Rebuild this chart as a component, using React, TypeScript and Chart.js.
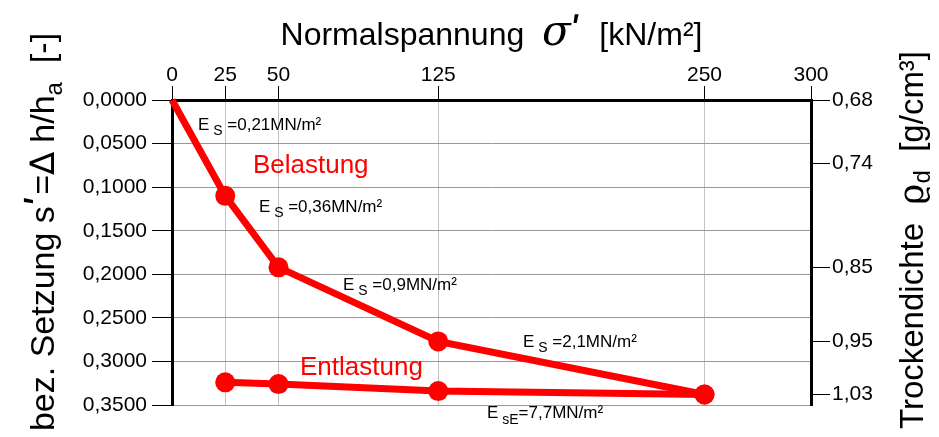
import React, { useEffect, useRef } from 'react';
import { Chart, registerables } from 'chart.js';

Chart.register(...registerables);

const FF = "Arial, 'Liberation Sans', sans-serif";

// ---- data ----
const loadsBelastung = [0, 25, 50, 125, 250];
const setzungBelastung = [0, 0.110, 0.192, 0.277, 0.338];
const loadsEntlastung = [250, 125, 50, 25];
const setzungEntlastung = [0.338, 0.334, 0.326, 0.324];

const xTickValues = [0, 25, 50, 125, 250, 300];
const yTickValues = [0, 0.05, 0.1, 0.15, 0.2, 0.25, 0.3, 0.35];
const yTickLabels = ['0,0000', '0,0500', '0,1000', '0,1500', '0,2000', '0,2500', '0,3000', '0,3500'];
const densityTickPositions = [0, 0.0726, 0.192, 0.277, 0.338];
const densityTickLabels = ['0,68', '0,74', '0,85', '0,95', '1,03'];

// annotation anchors in data units (load, settlement)
const esTexts = ['=0,21MN/m²', '=0,36MN/m²', '=0,9MN/m²', '=2,1MN/m²'];
const esAnchorX = [12.2, 40.8, 80.3, 164.8];
const esAnchorY = [0.0344, 0.1284, 0.2178, 0.2831];
const esEText = '=7,7MN/m²';
const esEAnchor = { x: 147.9, y: 0.3645 };
const phaseLabels = ['Belastung', 'Entlastung'];
const phaseAnchorX = [38.0, 60.1];
const phaseAnchorY = [0.0837, 0.3152];

type Run = { t: string; f: string; dy?: number };

function runsWidth(ctx: CanvasRenderingContext2D, runs: Run[]) {
  let w = 0;
  for (const r of runs) {
    ctx.font = r.f;
    w += ctx.measureText(r.t).width;
  }
  return w;
}

function drawRuns(ctx: CanvasRenderingContext2D, runs: Run[], x: number, y: number, color: string, align: 'left' | 'center') {
  let cx = x;
  if (align === 'center') cx = x - runsWidth(ctx, runs) / 2;
  ctx.fillStyle = color;
  ctx.textAlign = 'left';
  ctx.textBaseline = 'alphabetic';
  for (const r of runs) {
    ctx.font = r.f;
    ctx.fillText(r.t, cx, y + (r.dy || 0));
    cx += ctx.measureText(r.t).width;
  }
}

const textPlugin = {
  id: 'textPlugin',
  afterDraw(chart: any) {
    const ctx: CanvasRenderingContext2D = chart.ctx;
    const xs = chart.scales.x;
    const ys = chart.scales.y;
    ctx.save();
    const main = `17px ${FF}`;
    const sub = `14px ${FF}`;
    esTexts.forEach((t, i) => {
      drawRuns(ctx, [{ t: 'E', f: main }, { t: ' S', f: sub, dy: 5 }, { t: ' ' + t, f: main }],
        xs.getPixelForValue(esAnchorX[i]), ys.getPixelForValue(esAnchorY[i]), '#000', 'left');
    });
    drawRuns(ctx, [{ t: 'E', f: main }, { t: ' sE', f: sub, dy: 6 }, { t: esEText, f: main }],
      xs.getPixelForValue(esEAnchor.x), ys.getPixelForValue(esEAnchor.y), '#000', 'left');
    phaseLabels.forEach((t, i) => {
      drawRuns(ctx, [{ t, f: `26px ${FF}` }], xs.getPixelForValue(phaseAnchorX[i]), ys.getPixelForValue(phaseAnchorY[i]), '#ff0000', 'left');
    });

    // top title
    const tf = `32px ${FF}`;
    drawRuns(ctx, [
      { t: 'Normalspannung  ', f: tf },
      { t: 'σ', f: `italic 42px 'DejaVu Serif', serif`, dy: 0 },
      { t: 'ʹ', f: `bold 36px 'DejaVu Sans', sans-serif`, dy: -2 },
      { t: '  [kN/m²]', f: tf },
    ], (chart.chartArea.left + chart.chartArea.right) / 2, 45, '#000', 'center');

    // left title
    ctx.save();
    ctx.translate(54, 232);
    ctx.rotate(-Math.PI / 2);
    drawRuns(ctx, [
      { t: 'bez. Setzung s', f: `34px ${FF}` },
      { t: 'ʹ', f: `bold 38px 'DejaVu Sans', sans-serif` },
      { t: '=', f: `34px ${FF}` },
      { t: '∆', f: `34px 'DejaVu Sans', sans-serif` },
      { t: ' h/h', f: `34px ${FF}` },
      { t: 'a', f: `24px ${FF}`, dy: 8 },
      { t: '  [-]', f: `34px ${FF}` },
    ], 0, 0, '#000', 'center');
    ctx.restore();

    // right title
    ctx.save();
    ctx.translate(923, 240);
    ctx.rotate(-Math.PI / 2);
    drawRuns(ctx, [
      { t: 'Trockendichte  ', f: `33px ${FF}` },
      { t: 'ϱ', f: `36px 'DejaVu Serif', serif` },
      { t: 'd', f: `24px ${FF}`, dy: 7 },
      { t: '  [g/cm³]', f: `33px ${FF}` },
    ], 0, 0, '#000', 'center');
    ctx.restore();

    ctx.restore();
  },
};

export default function App() {
  const ref = useRef<HTMLCanvasElement | null>(null);
  useEffect(() => {
    if (!ref.current) return;
    const tickFont = { family: FF, size: 21 };
    const chart = new Chart(ref.current, {
      type: 'line',
      data: {
        datasets: [
          {
            label: 'Belastung',
            data: loadsBelastung.map((x, i) => ({ x, y: setzungBelastung[i] })),
            borderColor: '#ff0000',
            backgroundColor: '#ff0000',
            borderWidth: 7,
            pointRadius: (c: any) => (c.dataIndex === 0 ? 0 : 10),
            pointBorderWidth: 0,
            pointBackgroundColor: '#ff0000',
            tension: 0,
            clip: false as any,
          },
          {
            label: 'Entlastung',
            data: loadsEntlastung.map((x, i) => ({ x, y: setzungEntlastung[i] })),
            borderColor: '#ff0000',
            backgroundColor: '#ff0000',
            borderWidth: 7,
            pointRadius: 10,
            pointBorderWidth: 0,
            pointBackgroundColor: '#ff0000',
            tension: 0,
            clip: false as any,
          },
        ],
      },
      options: {
        animation: false,
        responsive: true,
        maintainAspectRatio: false,
        layout: { padding: { left: 0, right: 0, top: 0, bottom: 32 } },
        plugins: { legend: { display: false }, tooltip: { enabled: false } },
        scales: {
          x: {
            type: 'linear',
            position: 'top',
            min: 0,
            max: 300,
            afterBuildTicks: (s: any) => { s.ticks = xTickValues.map((v) => ({ value: v })); },
            afterFit: (s: any) => { s.height = 100; },
            ticks: { font: tickFont, color: '#000', padding: -2, maxRotation: 0, autoSkip: false },
            grid: {
              display: true,
              drawOnChartArea: true,
              color: '#c4c4c4',
              tickColor: '#000',
              tickLength: 14,
              lineWidth: 1,
            },
            border: { color: '#000', width: 3 },
          },
          y: {
            type: 'linear',
            position: 'left',
            min: 0,
            max: 0.35,
            reverse: true,
            afterBuildTicks: (s: any) => { s.ticks = yTickValues.map((v) => ({ value: v })); },
            afterFit: (s: any) => { s.width = 172; },
            ticks: { font: tickFont, color: '#000', padding: 5, autoSkip: false, callback: (_v: any, i: number) => yTickLabels[i] },
            grid: {
              display: true,
              drawOnChartArea: true,
              color: '#9a9a9a',
              tickColor: '#000',
              tickLength: 20,
              lineWidth: 1,
            },
            border: { color: '#000', width: 3 },
          },
          y2: {
            type: 'linear',
            position: 'right',
            min: 0,
            max: 0.35,
            reverse: true,
            afterBuildTicks: (s: any) => { s.ticks = densityTickPositions.map((v) => ({ value: v })); },
            afterFit: (s: any) => { s.width = 128; },
            ticks: { font: tickFont, color: '#000', padding: 2, autoSkip: false, callback: (_v: any, i: number) => densityTickLabels[i] },
            grid: { drawOnChartArea: false, tickColor: '#000', tickLength: 19, lineWidth: 1 },
            border: { color: '#000', width: 3 },
          },
        },
      } as any,
      plugins: [textPlugin],
    });
    return () => chart.destroy();
  }, []);
  return (
    <div style={{ position: 'absolute', left: 0, top: 0, width: 939, height: 437, background: '#fff' }}>
      <canvas ref={ref} />
    </div>
  );
}
